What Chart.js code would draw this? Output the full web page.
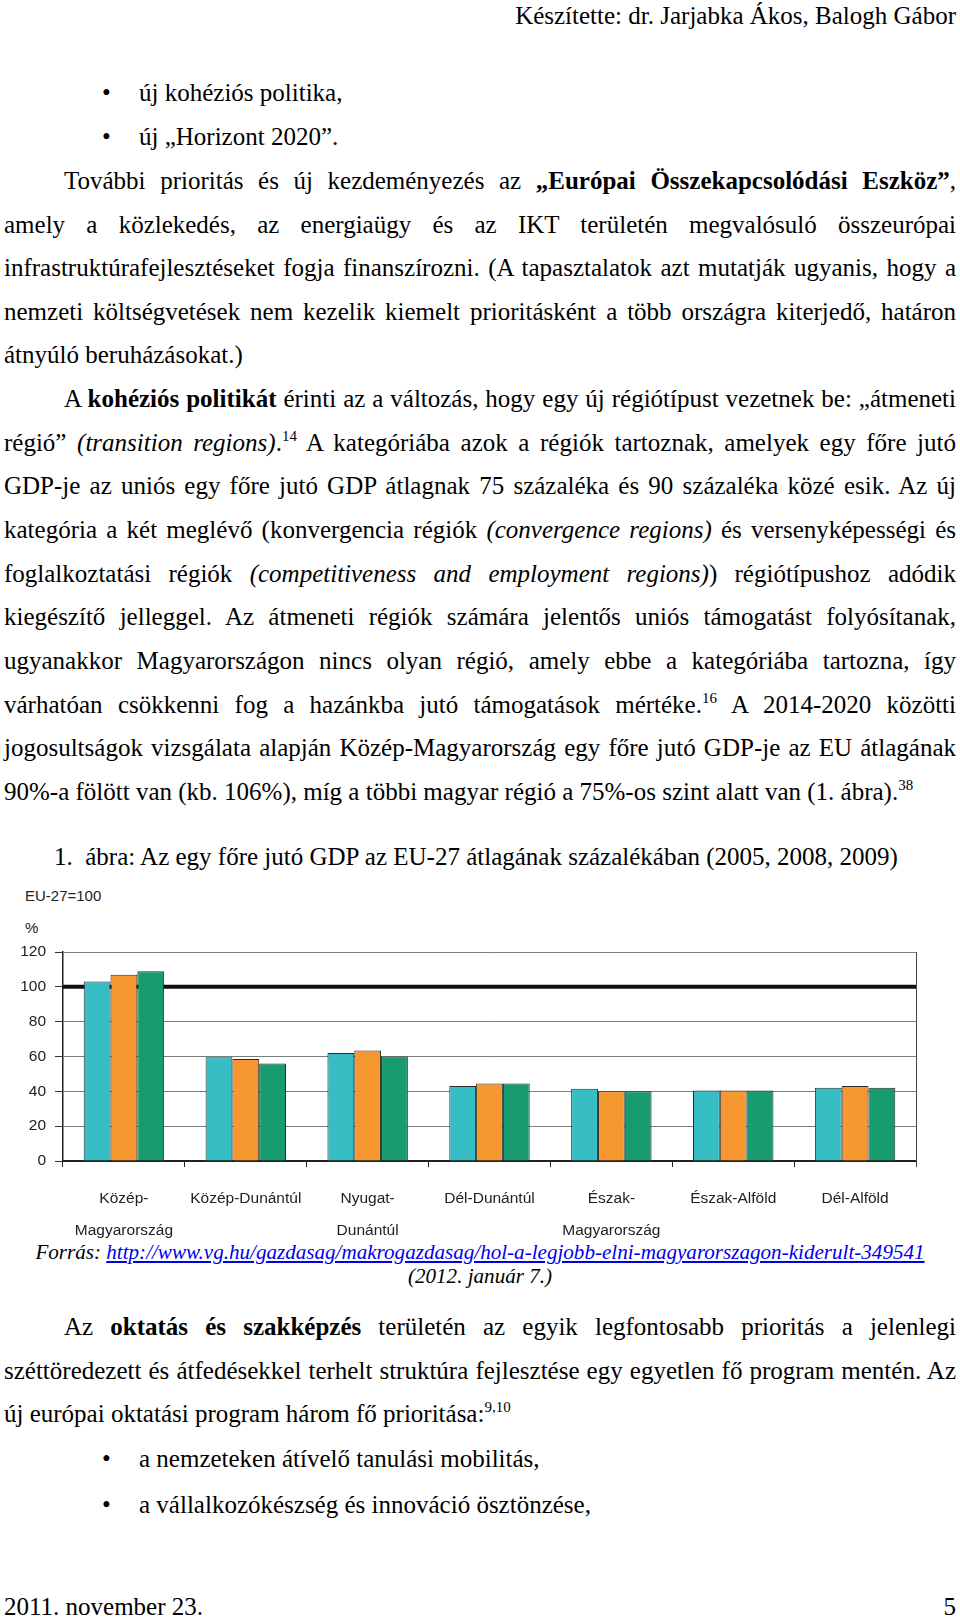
<!DOCTYPE html>
<html lang="hu">
<head>
<meta charset="UTF-8" />
<script src="https://cdn.jsdelivr.net/npm/chart.js@4.4.0/dist/chart.umd.min.js"></script>
<style>
  html, body { margin: 0; padding: 0; background: #fff; }
  body { width: 960px; height: 1617px; position: relative; overflow: hidden;
         font-family: "Liberation Serif", "Times New Roman", serif; font-size: 25px; color: #000; }
  .ln { position: absolute; left: 4px; right: 4px; height: 44px; line-height: 44px; white-space: nowrap; }
  .j { text-align: justify; text-align-last: justify; }
  .ind { left: 64px; }
  .bul { left: 139px; }
  .bul::before { content: "\2022"; position: absolute; left: -37px; }
  sup { font-size: 15px; line-height: 0; vertical-align: 10px; }
  .src { position: absolute; left: 0; right: 0; text-align: center; font-style: italic; font-size: 21.1px; line-height: 24px; white-space: nowrap; }
  .src a { color: #0000ee; text-decoration: underline; }
  .clab { position: absolute; font-family: "Liberation Sans", Arial, sans-serif; font-size: 15px; color: #222; line-height: 18px; }
  #chartBox { position: absolute; left: 0; top: 878px; width: 930px; height: 362px; }
</style>
</head>
<body>
  <div class="ln" style="top:-6px;text-align:right;">Készítette: dr. Jarjabka Ákos, Balogh Gábor</div>

  <div class="ln bul" style="top:71px;">új kohéziós politika,</div>
  <div class="ln bul" style="top:115px;">új „Horizont 2020”.</div>
  <div class="ln ind j" style="top:159px;">További prioritás és új kezdeményezés az <b>„Európai Összekapcsolódási Eszköz”</b>,</div>
  <div class="ln j" style="top:203px;">amely a közlekedés, az energiaügy és az IKT területén megvalósuló összeurópai</div>
  <div class="ln j" style="top:246px;">infrastruktúrafejlesztéseket fogja finanszírozni. (A tapasztalatok azt mutatják ugyanis, hogy a</div>
  <div class="ln j" style="top:290px;">nemzeti költségvetések nem kezelik kiemelt prioritásként a több országra kiterjedő, határon</div>
  <div class="ln" style="top:333px;">átnyúló beruházásokat.)</div>
  <div class="ln ind j" style="top:377px;">A <b>kohéziós politikát</b> érinti az a változás, hogy egy új régiótípust vezetnek be: „átmeneti</div>
  <div class="ln j" style="top:421px;">régió” <i>(transition regions)</i>.<sup>14</sup> A kategóriába azok a régiók tartoznak, amelyek egy főre jutó</div>
  <div class="ln j" style="top:464px;">GDP-je az uniós egy főre jutó GDP átlagnak 75 százaléka és 90 százaléka közé esik. Az új</div>
  <div class="ln j" style="top:508px;">kategória a két meglévő (konvergencia régiók <i>(convergence regions)</i> és versenyképességi és</div>
  <div class="ln j" style="top:552px;">foglalkoztatási régiók <i>(competitiveness and employment regions)</i>) régiótípushoz adódik</div>
  <div class="ln j" style="top:595px;">kiegészítő jelleggel. Az átmeneti régiók számára jelentős uniós támogatást folyósítanak,</div>
  <div class="ln j" style="top:639px;">ugyanakkor Magyarországon nincs olyan régió, amely ebbe a kategóriába tartozna, így</div>
  <div class="ln j" style="top:683px;">várhatóan csökkenni fog a hazánkba jutó támogatások mértéke.<sup>16</sup> A 2014-2020 közötti</div>
  <div class="ln j" style="top:726px;">jogosultságok vizsgálata alapján Közép-Magyarország egy főre jutó GDP-je az EU átlagának</div>
  <div class="ln" style="top:770px;">90%-a fölött van (kb. 106%), míg a többi magyar régió a 75%-os szint alatt van (1. ábra).<sup>38</sup></div>

  <div class="ln" style="top:835px;left:54px;">1.&nbsp;&nbsp;ábra: Az egy főre jutó GDP az EU-27 átlagának százalékában (2005, 2008, 2009)</div>

  <div class="clab" style="left:25px;top:887px;">EU-27=100</div>
  <div class="clab" style="left:25px;top:919px;">%</div>
  <div id="chartBox"><canvas id="gdpChart"></canvas></div>

  <div class="src" style="top:1240px;">Forrás: <a href="#">http://www.vg.hu/gazdasag/makrogazdasag/hol-a-legjobb-elni-magyarorszagon-kiderult-349541</a></div>
  <div class="src" style="top:1264px;">(2012. január 7.)</div>

  <div class="ln ind j" style="top:1305px;">Az <b>oktatás és szakképzés</b> területén az egyik legfontosabb prioritás a jelenlegi</div>
  <div class="ln j" style="top:1349px;">széttöredezett és átfedésekkel terhelt struktúra fejlesztése egy egyetlen fő program mentén. Az</div>
  <div class="ln" style="top:1392px;">új európai oktatási program három fő prioritása:<sup>9,10</sup></div>
  <div class="ln bul" style="top:1437px;">a nemzeteken átívelő tanulási mobilitás,</div>
  <div class="ln bul" style="top:1483px;">a vállalkozókészség és innováció ösztönzése,</div>

  <div class="ln" style="top:1585px;">2011. november 23.</div>
  <div class="ln" style="top:1585px;text-align:right;">5</div>

<script>
  // adatok (EU-27 = 100)
  var regions = [
    ["Közép-", "Magyarország"],
    "Közép-Dunántúl",
    ["Nyugat-", "Dunántúl"],
    "Dél-Dunántúl",
    ["Észak-", "Magyarország"],
    "Észak-Alföld",
    "Dél-Alföld"
  ];
  var years = ["2005", "2008", "2009"];
  var gdp2005 = [103, 59.5, 62, 43, 41.5, 40.5, 42];
  var gdp2008 = [107, 58.5, 63.5, 44.5, 40, 40.5, 43];
  var gdp2009 = [109, 56, 60, 44.5, 40, 40.5, 42];
  var euLevel = 100;
  var yTicks = [0, 20, 40, 60, 80, 100, 120];

  var colors = ["#37bec4", "#f7972f", "#189b6e"];

  // vastag fekete vonal az EU-átlagnál, az oszlopok mögött
  var euLine = {
    id: "euLine",
    beforeDatasetsDraw: function (chart) {
      var ctx = chart.ctx, area = chart.chartArea;
      var y = chart.scales.y.getPixelForValue(euLevel);
      ctx.save();
      ctx.strokeStyle = "#111";
      ctx.lineWidth = 4;
      ctx.beginPath();
      ctx.moveTo(area.left, y);
      ctx.lineTo(area.right, y);
      ctx.stroke();
      ctx.restore();
    },
    afterDraw: function (chart) {
      var ctx = chart.ctx, area = chart.chartArea;
      ctx.save();
      ctx.strokeStyle = "#444";
      ctx.lineWidth = 1;
      ctx.beginPath();
      ctx.moveTo(area.right + 0.5, area.top);
      ctx.lineTo(area.right + 0.5, area.bottom + 6);
      ctx.stroke();
      ctx.restore();
    }
  };

  var ctx = document.getElementById("gdpChart").getContext("2d");
  var chart = new Chart(ctx, {
    type: "bar",
    data: {
      labels: regions,
      datasets: [gdp2005, gdp2008, gdp2009].map(function (d, i) {
        return {
          label: years[i],
          data: d,
          backgroundColor: colors[i],
          borderColor: "#2b2b2b",
          borderWidth: 1,
          barPercentage: 1,
          categoryPercentage: 0.66
        };
      })
    },
    options: {
      responsive: true,
      maintainAspectRatio: false,
      animation: false,
      layout: { padding: { top: 74, right: 14, left: 0, bottom: 0 } },
      plugins: { legend: { display: false }, tooltip: { enabled: false } },
      scales: {
        x: {
          afterFit: function (s) { s.height = 79; },
          grid: { drawOnChartArea: false, drawTicks: true, tickLength: 6, tickColor: "#222", offset: true },
          border: { color: "#222", width: 2 },
          ticks: {
            color: "#222",
            padding: 15,
            maxRotation: 0,
            autoSkip: false,
            font: { family: "'Liberation Sans', Arial, sans-serif", size: 15.5, lineHeight: 2.1 }
          }
        },
        y: {
          min: 0,
          max: 120,
          afterFit: function (s) { s.width = 63; },
          afterBuildTicks: function (s) { s.ticks = yTicks.map(function (v) { return { value: v }; }); },
          grid: { color: "#7d7d7d", lineWidth: 1, tickLength: 8, tickColor: "#333" },
          border: { color: "#222", width: 1.5 },
          ticks: {
            color: "#222",
            padding: 9,
            font: { family: "'Liberation Sans', Arial, sans-serif", size: 15.5 }
          }
        }
      }
    },
    plugins: [euLine]
  });
</script>
</body>
</html>
